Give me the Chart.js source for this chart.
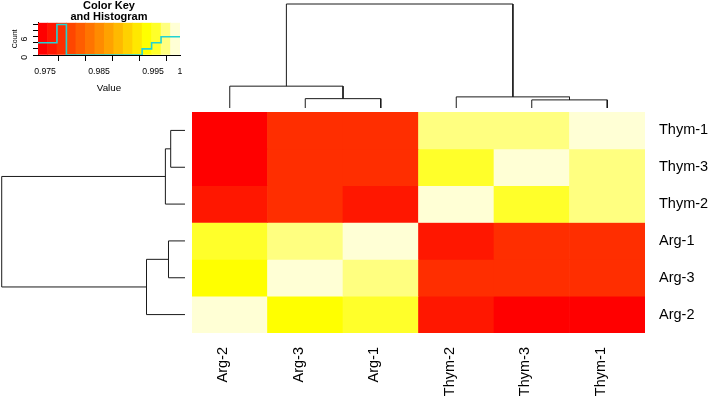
<!DOCTYPE html>
<html><head><meta charset="utf-8">
<script src="https://cdn.jsdelivr.net/npm/chart.js@4.4.0/dist/chart.umd.min.js"></script>
<style>
html,body{margin:0;padding:0;background:#fff;width:714px;height:400px;overflow:hidden;position:relative;}
canvas{position:absolute;}
</style></head><body>
<canvas id="colDend" width="453" height="110" style="left:192px;top:0px"></canvas>
<canvas id="rowDend" width="188" height="221" style="left:0px;top:112px"></canvas>
<canvas id="heat" width="522" height="288" style="left:192px;top:112px"></canvas>
<canvas id="key" width="200" height="100" style="left:0px;top:0px"></canvas>
<script>
// ---------------- data ----------------
const samples = ['Arg-1','Arg-2','Arg-3','Thym-1','Thym-2','Thym-3'];
// pairwise values (symmetric), rows/cols in the order of `samples`
const arg1Row  = [1.0000, 0.9956, 0.9975, 0.9781, 0.9762, 0.9786];
const arg2Row  = [0.9956, 1.0000, 0.9940, 0.9737, 0.9760, 0.9748];
const arg3Row  = [0.9975, 0.9940, 1.0000, 0.9783, 0.9779, 0.9784];
const thym1Row = [0.9781, 0.9737, 0.9783, 1.0000, 0.9974, 0.9977];
const thym2Row = [0.9762, 0.9760, 0.9779, 0.9974, 1.0000, 0.9958];
const thym3Row = [0.9786, 0.9748, 0.9784, 0.9977, 0.9958, 1.0000];
const valueRows = [arg1Row, arg2Row, arg3Row, thym1Row, thym2Row, thym3Row];

// column order (left to right) and row order (top to bottom) after clustering
const colLabels = ['Arg-2','Arg-3','Arg-1','Thym-2','Thym-3','Thym-1'];
const rowLabels = ['Thym-1','Thym-3','Thym-2','Arg-1','Arg-3','Arg-2'];

// dendrogram merges: [left, right, height]; numbers refer to earlier merges
const dendroMerges = [
  ['Arg-3', 'Arg-1', 0.090],
  ['Arg-2', 0, 0.210],
  ['Thym-3', 'Thym-1', 0.078],
  ['Thym-2', 2, 0.107],
  [1, 3, 1.000]
];

// colour key axis ticks
const keyTicks = [0.975, 0.980, 0.985, 0.990, 0.995, 1.000];
const keyTickLabels = ['0.975', '', '0.985', '', '0.995', '1'];
const countTicks = [0, 2, 4, 6, 8, 10];
const countTickLabels = ['0', '', '', '6', '', ''];

// ---------------- derived scales ----------------
const nColors = 15;
function heatColors(n) {
  const j = Math.floor(n / 4), i = n - j, out = [];
  for (let k = 0; k < i; k++) {
    const g = Math.round(255 * k / (i - 1));
    out.push('rgb(255,' + g + ',0)');
  }
  for (let k = 0; k < j; k++) {
    const s0 = 1 - 1 / (2 * j), s1 = 1 / (2 * j);
    const s = j > 1 ? s0 + (s1 - s0) * k / (j - 1) : s0;
    out.push('rgb(255,255,' + Math.round(255 * (1 - s)) + ')');
  }
  return out;
}
const palette = heatColors(nColors);
const allVals = valueRows.flat();
const vMin = Math.min(...allVals), vMax = Math.max(...allVals);
const breaks = [];
for (let k = 0; k <= nColors; k++) breaks.push(vMin + (vMax - vMin) * k / nColors);
function binOf(v) {
  let b = Math.floor((v - vMin) / (vMax - vMin) * nColors + 1e-9);
  return Math.max(0, Math.min(nColors - 1, b));
}
function valueOf(a, b) { return valueRows[samples.indexOf(a)][samples.indexOf(b)]; }
const histCounts = new Array(nColors).fill(0);
allVals.forEach(v => histCounts[binOf(v)]++);

const FONT = 'Liberation Sans, Arial, Helvetica, sans-serif';
Chart.defaults.font.family = FONT;
Chart.defaults.color = '#000';
Chart.defaults.animation = false;
Chart.defaults.plugins.legend.display = false;
Chart.defaults.plugins.tooltip.enabled = false;

function noPad(s) { s.paddingTop = 0; s.paddingBottom = 0; s.paddingLeft = 0; s.paddingRight = 0; }

// ---------------- dendrogram segments ----------------
function dendroSegments() {
  const nodes = [];
  const pos = n => typeof n === 'number' ? nodes[n] : { p: colLabels.indexOf(n) + 1, h: 0 };
  const segs = [];
  dendroMerges.forEach(([l, r, h]) => {
    const L = pos(l), R = pos(r);
    segs.push([[L.p, L.h], [L.p, h], [R.p, h], [R.p, R.h]]);
    nodes.push({ p: (L.p + R.p) / 2, h: h });
  });
  return segs;
}
const segs = dendroSegments();
const lineStyle = { borderColor: '#1a1a1a', borderWidth: 1, pointRadius: 0, showLine: true, fill: false, tension: 0 };

new Chart(document.getElementById('colDend'), {
  type: 'scatter',
  data: { datasets: segs.map(s => Object.assign({ data: s.map(([p, h]) => ({ x: p, y: h })) }, lineStyle)) },
  options: {
    responsive: false, layout: { padding: 0 },
    scales: {
      x: { type: 'linear', display: false, min: 0.5, max: 6.5 },
      y: { type: 'linear', display: false, min: -0.0192, max: 1.0385 }
    }
  }
});

new Chart(document.getElementById('rowDend'), {
  type: 'scatter',
  data: { datasets: segs.map(s => Object.assign({ data: s.map(([p, h]) => ({ x: h, y: p })) }, lineStyle)) },
  options: {
    responsive: false, layout: { padding: 0 },
    scales: {
      x: { type: 'linear', display: false, reverse: true, min: -0.0164, max: 1.0093 },
      y: { type: 'linear', display: false, min: 0.5, max: 6.5 }
    }
  }
});

// ---------------- heatmap ----------------
const heatDatasets = rowLabels.map((rl, ri) => {
  const p = rowLabels.length - ri;
  return {
    data: colLabels.map(() => [p - 0.5, p + 0.5]),
    backgroundColor: colLabels.map(cl => palette[binOf(valueOf(rl, cl))]),
    borderWidth: 0, barPercentage: 1, categoryPercentage: 1, grouped: false
  };
});
new Chart(document.getElementById('heat'), {
  type: 'bar',
  data: { labels: colLabels, datasets: heatDatasets },
  options: {
    responsive: false, layout: { padding: 0 },
    scales: {
      x: {
        type: 'category', offset: true,
        grid: { display: false, drawTicks: false }, border: { display: false },
        ticks: { minRotation: 90, maxRotation: 90, autoSkip: false, padding: 14, labelOffset: -6.5, font: { size: 14.5 }, color: '#000' },
        afterFit: s => { s.height = 67; noPad(s); }
      },
      y: {
        type: 'linear', position: 'right', min: 0.5, max: 6.5,
        grid: { display: false, drawTicks: false }, border: { display: false },
        afterBuildTicks: s => { s.ticks = rowLabels.map((_, i) => ({ value: rowLabels.length - i })); },
        ticks: { callback: v => rowLabels[rowLabels.length - v], padding: 14, font: { size: 14.5 }, color: '#000' },
        afterFit: s => { s.width = 69; noPad(s); }
      }
    }
  }
});

// ---------------- colour key + histogram ----------------
const keyBars = palette.map((c, k) => ({ x: (breaks[k] + breaks[k + 1]) / 2, y: [0, 10.6] }));
const histPoints = histCounts.map((c, k) => ({ x: breaks[k], y: c }));
histPoints.push({ x: breaks[nColors], y: histCounts[nColors - 1] });

new Chart(document.getElementById('key'), {
  type: 'bar',
  data: {
    datasets: [
      { type: 'line', data: histPoints, borderColor: '#22D3D3', borderWidth: 1.6, stepped: 'before', pointRadius: 0, fill: false, order: 0 },
      { type: 'bar', data: keyBars, backgroundColor: palette, borderWidth: 0, barPercentage: 1, categoryPercentage: 1, order: 1 }
    ]
  },
  options: {
    responsive: false,
    layout: { padding: { right: 20, top: 0, left: 0, bottom: 0 } },
    plugins: {
      title: {
        display: true, fullSize: false, text: ['Color Key', 'and Histogram'], color: '#000',
        font: { size: 11, weight: 'bold', lineHeight: 1.0 }, padding: { top: 0.7, bottom: 0 }
      }
    },
    scales: {
      x: {
        type: 'linear', min: breaks[0], max: breaks[nColors], offset: false,
        afterBuildTicks: s => { s.ticks = keyTicks.map(v => ({ value: v })); },
        afterFit: s => { s.height = 45; noPad(s); },
        grid: { display: true, drawOnChartArea: false, drawTicks: true, tickLength: 6, color: '#000' },
        border: { display: true, color: '#000' },
        ticks: { callback: (v, i) => keyTickLabels[i], font: { size: 8.7 }, color: '#000', padding: 5, maxRotation: 0, autoSkip: false },
        title: { display: true, text: 'Value', font: { size: 9.8 }, color: '#000', padding: { top: 0, bottom: 6 } }
      },
      y: {
        type: 'linear', min: 0, max: 10.6, position: 'left',
        afterBuildTicks: s => { s.ticks = countTicks.map(v => ({ value: v })); },
        afterFit: s => { s.width = 38; noPad(s); },
        grid: { display: true, drawOnChartArea: false, drawTicks: true, tickLength: 5, color: '#000' },
        border: { display: true, color: '#000' },
        ticks: { callback: (v, i) => countTickLabels[i], minRotation: 90, maxRotation: 90, padding: 8, font: { size: 8.7 }, color: '#000', autoSkip: false },
        title: { display: true, text: 'Count', font: { size: 7 }, color: '#000', padding: { top: 11, bottom: 0 } }
      }
    }
  }
});
</script>
</body></html>
